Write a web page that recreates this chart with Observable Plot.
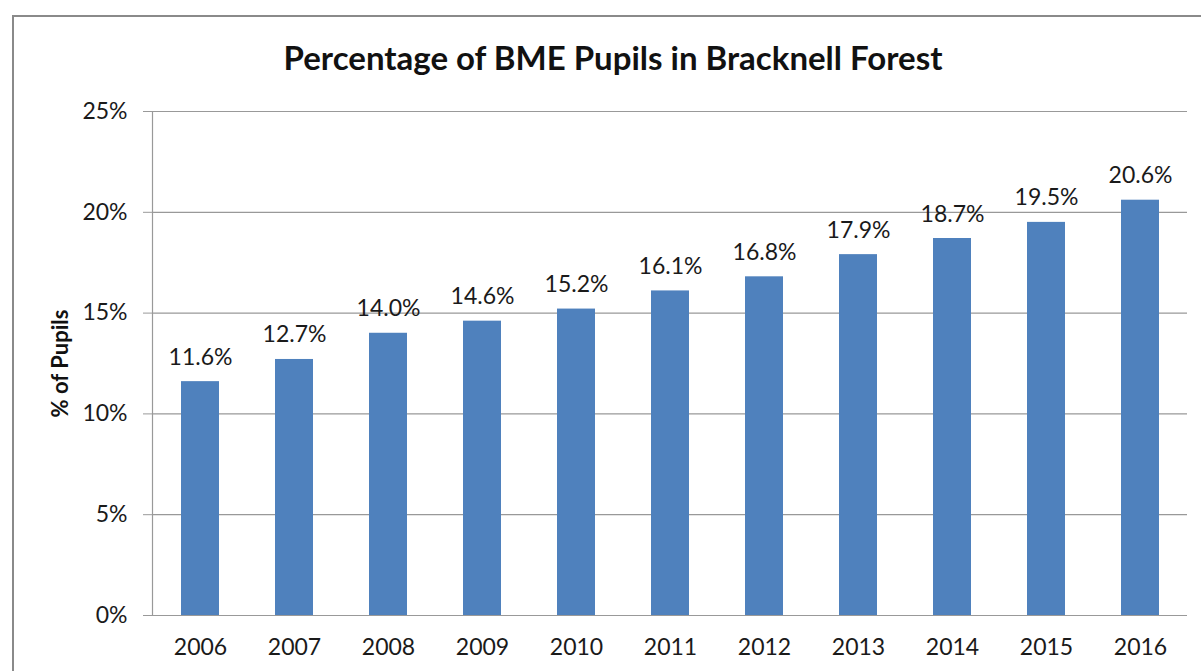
<!DOCTYPE html>
<html>
<head>
<meta charset="utf-8">
<script src="https://cdn.jsdelivr.net/npm/d3@7"></script>
<script src="https://cdn.jsdelivr.net/npm/@observablehq/plot@0.6"></script>
<style>
  html, body { margin: 0; padding: 0; background: #fff; width: 1201px; height: 671px; overflow: hidden; font-family: Lato, "Open Sans", sans-serif; }
  #frame { position: absolute; left: 12px; top: 15px; width: 1300px; height: 800px; border: 2px solid #8a8a8a; box-sizing: border-box; }
  #title { position: absolute; left: 0; width: 1226px; top: 37px; text-align: center; font-weight: 700; font-size: 33px; color: #111; }
  #chart { position: absolute; left: 0; top: 0; }
  #chart svg { overflow: visible; }
</style>
</head>
<body>
<div id="frame"></div>
<div id="title">Percentage of BME Pupils in Bracknell Forest</div>
<div id="chart"></div>
<script>
const years = ["2006","2007","2008","2009","2010","2011","2012","2013","2014","2015","2016"];
const percentages = [11.6, 12.7, 14.0, 14.6, 15.2, 16.1, 16.8, 17.9, 18.7, 19.5, 20.6];
const yTicks = [0, 5, 10, 15, 20, 25];

const data = years.map((year, i) => ({year, value: percentages[i]}));

const chart = Plot.plot({
  width: 1201,
  height: 671,
  marginTop: 111,
  marginBottom: 56,
  marginLeft: 152,
  marginRight: 14,
  style: {fontFamily: "Lato, 'Open Sans', sans-serif", fontSize: "23px", color: "#1a1a1a", background: "transparent"},
  x: {domain: years, paddingInner: 0.6, paddingOuter: 0.3, label: null},
  y: {domain: [0, 25], label: null},
  marks: [
    Plot.gridY(yTicks, {stroke: "#999", strokeOpacity: 1, strokeWidth: 1.2}),
    Plot.frame({anchor: "left", stroke: "#999", strokeWidth: 1.2}),
    Plot.axisY(yTicks, {tickSize: 9, tickPadding: 16, stroke: "#999", tickFormat: d => d + "%", label: null, fontSize: 23}),
    Plot.axisX({tickSize: 0, tickPadding: 23, label: null, fontSize: 23}),
    Plot.barY(data, {x: "year", y: "value", fill: "#4F81BD"}),
    Plot.text(data, {x: "year", y: "value", text: d => d.value.toFixed(1) + "%", lineAnchor: "bottom", dy: -17, fontSize: 23, fill: "#1a1a1a"}),
    Plot.text(["% of Pupils"], {frameAnchor: "left", textAnchor: "middle", dx: -92, rotate: -90, text: d => d, fontWeight: "bold", fontSize: 22, fill: "#111"})
  ]
});
document.getElementById("chart").appendChild(chart);
</script>
</body>
</html>
